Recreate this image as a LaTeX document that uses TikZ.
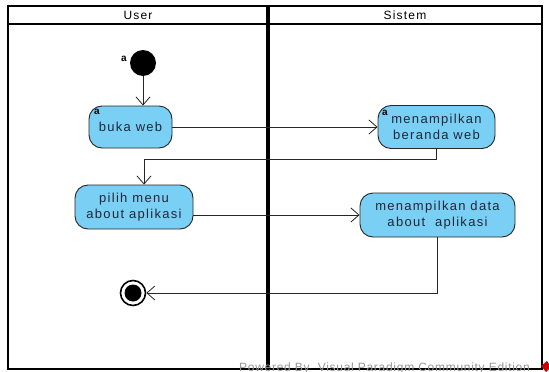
\documentclass[tikz,border=0pt]{standalone}
\usepackage{fontspec}
\setmainfont{Liberation Sans}
\newfontfamily\vpfont[LetterSpace=10]{Liberation Sans}
\newfontfamily\wmfont[LetterSpace=6]{Liberation Sans}
\usetikzlibrary{arrows.meta,calc}
\definecolor{actfill}{RGB}{122,207,245}
\definecolor{acttext}{RGB}{30,40,55}
\definecolor{wmgray}{RGB}{150,150,150}
\begin{document}
\begin{tikzpicture}[x=1pt,y=-1pt,
  frame/.style={line width=2.8pt,black},
  action/.style={draw=black!85,line width=0.9pt,fill=actfill,rounded corners=13pt,
    text=acttext,align=center,inner sep=0pt,font=\vpfont\fontsize{13}{16.5}\selectfont},
  flow/.style={line width=0.8pt,black!85,-{Straight Barb[length=8pt,width=14pt,line width=0.8pt]}},
  marker/.style={font=\bfseries\fontsize{10}{10}\selectfont,inner sep=0pt},
  lanetitle/.style={font=\vpfont\fontsize{12}{12}\selectfont}
]
\useasboundingbox (0,0) rectangle (549,372);
\clip (0,0) rectangle (549,372);

% swimlane frame
\draw[frame] (8,6) rectangle (542,369);
\draw[frame] (8,24) -- (542,24);
\draw[line width=3.2pt] (268,6) -- (268,369);
\node[lanetitle] (laneUser) at (138,15.5) {User};
\node[lanetitle] (laneSistem) at (405,15.5) {Sistem};

% start and end
\node[circle,fill=black,minimum size=26pt,inner sep=0pt] (start) at (143,63) {};
\node[marker] (startmark) at (124,59) {a};
\node[circle,draw=black,line width=1.6pt,fill=white,minimum size=25pt,inner sep=0pt] (final) at (133,293) {};
\fill[black] (final.center) circle (8.5pt);

% actions
\node[action,minimum width=83pt,minimum height=42pt] (buka) at (130.5,127) {buka web};
\node[action,minimum width=117pt,minimum height=43pt] (beranda) at (436.5,127) {menampilkan\\beranda web};
\node[action,minimum width=118pt,minimum height=44pt] (pilih) at (134,207) {pilih menu\\about aplikasi};
\node[action,minimum width=155pt,minimum height=44pt] (data) at (437.5,215) {menampilkan data\\about\ \ aplikasi};
\node[marker] (bukamark) at (97,111.5) {a};
\node[marker] (berandamark) at (385,112.5) {a};

% control flows
\coordinate (elbow) at (144,159);
\draw[flow] (start) -- (start |- buka.north);
\draw[flow] (buka.east) -- (beranda.west);
\draw[flow] (beranda.south) |- (elbow) -- (elbow |- pilih.north);
\draw[flow] (pilih.east |- data.west) -- (data.west);
\draw[flow] (data.south) |- (final.east);

% edition watermark
\node[anchor=base west,text=wmgray,inner sep=0pt,font=\wmfont\fontsize{12}{12}\selectfont] (wm) at (239,371)
  {Powered By\ \ Visual Paradigm Community Edition};
\fill[red!80!black] (541,366) -- (547,361) -- (551,367) -- (546,372) -- cycle;
\end{tikzpicture}
\end{document}
